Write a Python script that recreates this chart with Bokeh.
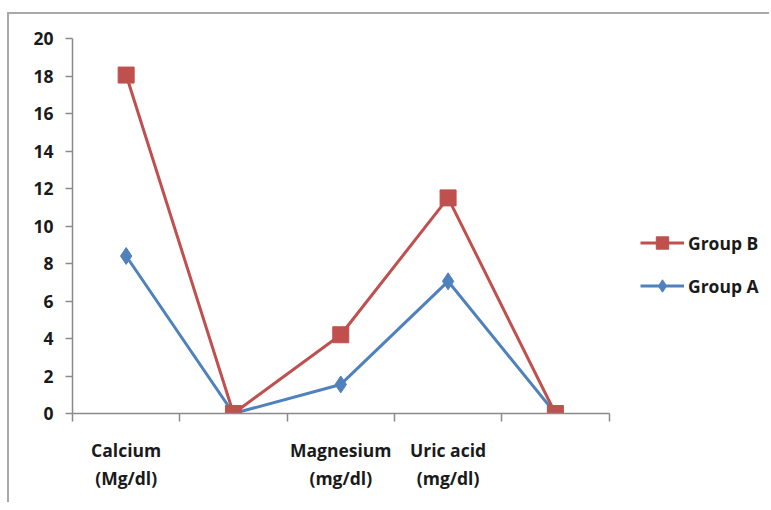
from bokeh.plotting import figure
from bokeh.models import Range1d, FixedTicker, Legend, LegendItem
from bokeh.embed import file_html
from bokeh.resources import INLINE

categories = ["Calcium\n(Mg/dl)", "", "Magnesium\n(mg/dl)", "Uric acid\n(mg/dl)", ""]
group_a = [8.4, 0.0, 1.55, 7.05, 0.0]
group_b = [18.05, 0.0, 4.2, 11.5, 0.0]
y_ticks = [0, 2, 4, 6, 8, 10, 12, 14, 16, 18, 20]

FONT = "Open Sans"
TXT = "#1a1a1a"
AXC = "#8a8a8a"
RED = "#c0504d"
BLUE = "#4f81bd"

n = len(categories)
centers = [i + 0.5 for i in range(n)]
bounds = [i for i in range(n + 1)]

W, H = 762, 490
ML, MR, MT, MB = 63, 5, 24, 91
AXIS_PX = 535  # pixel width of the category axis
frame_w = W - 2 - ML - MR
x_end = n * frame_w / AXIS_PX

p = figure(width=W, height=H, x_range=Range1d(0, x_end), y_range=Range1d(0, 20),
           output_backend="svg", toolbar_location=None,
           min_border_left=ML, min_border_right=MR, min_border_top=MT, min_border_bottom=MB)
p.styles = {"border-left": "2px solid #a9a9a9", "border-top": "2px solid #a9a9a9",
            "margin-top": "12px", "margin-left": "7px"}
p.outline_line_color = None
p.grid.visible = False

# x axis
xa = p.xaxis[0]
xa.bounds = (0, n)
xa.ticker = FixedTicker(ticks=centers, minor_ticks=bounds)
xa.major_label_overrides = {c: lab for c, lab in zip(centers, categories)}
xa.major_tick_out = 0
xa.major_tick_in = 0
xa.minor_tick_out = 8
xa.minor_tick_in = 0
xa.minor_tick_line_color = AXC
xa.minor_tick_line_width = 1.5
xa.axis_line_color = AXC
xa.axis_line_width = 1.5
xa.major_label_standoff = 16
xa.major_label_text_font = FONT
xa.major_label_text_font_style = "bold"
xa.major_label_text_font_size = "17.5px"
xa.major_label_text_color = TXT
xa.major_label_text_line_height = 1.2

# y axis
ya = p.yaxis[0]
ya.ticker = FixedTicker(ticks=y_ticks, minor_ticks=[])
ya.major_tick_out = 7
ya.major_tick_in = 0
ya.major_tick_line_color = AXC
ya.major_tick_line_width = 1.5
ya.axis_line_color = AXC
ya.axis_line_width = 1.5
ya.major_label_standoff = 12
ya.major_label_text_font = FONT
ya.major_label_text_font_style = "bold"
ya.major_label_text_font_size = "17.5px"
ya.major_label_text_color = TXT

la = p.line(centers, group_a, line_color=BLUE, line_width=3)
sa = p.scatter(centers, group_a, marker="diamond", size=17, fill_color=BLUE, line_color=BLUE)
lb = p.line(centers, group_b, line_color=RED, line_width=3)
sb = p.scatter(centers, group_b, marker="square", size=16, fill_color=RED, line_color=RED)

legend = Legend(items=[LegendItem(label="Group B", renderers=[lb, sb]),
                       LegendItem(label="Group A", renderers=[la, sa])],
                location=(568, 112))
legend.padding = 0
legend.margin = 0
legend.spacing = 12
legend.glyph_width = 44
legend.glyph_height = 31
legend.label_standoff = 4
legend.border_line_color = None
legend.background_fill_alpha = 0
legend.label_text_font = FONT
legend.label_text_font_style = "bold"
legend.label_text_font_size = "17.5px"
legend.label_text_color = TXT
p.add_layout(legend, "center")

open("out.html", "w").write(file_html(p, INLINE))
